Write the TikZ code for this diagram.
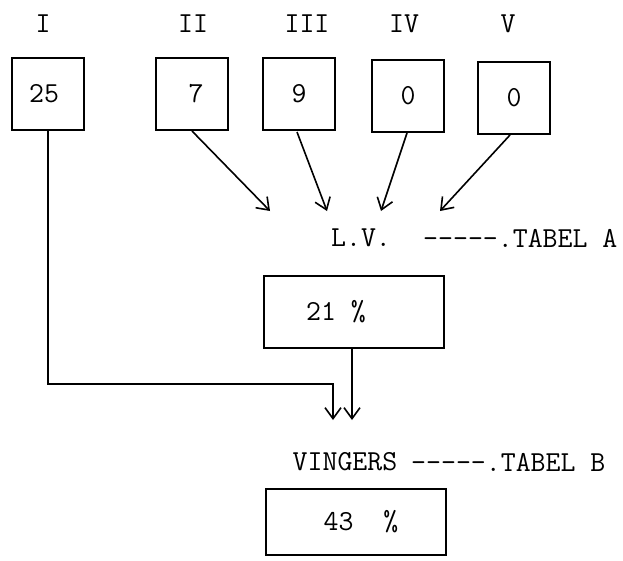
\documentclass[tikz,border=0pt]{standalone}
\usetikzlibrary{arrows.meta}
\begin{document}
\begin{tikzpicture}[x=1pt,y=-1pt,
  txt/.style={font=\ttfamily\fontsize{29}{32}\selectfont, inner sep=0pt},
  sqbox/.style={draw, line width=1.8pt, minimum width=72pt, minimum height=72pt, txt},
  wbox/.style={draw, line width=1.6pt, minimum width=180pt, minimum height=72pt, txt},
  conn/.style={line width=1.6pt, -{Straight Barb[length=11pt,width=16pt,line width=1.6pt]}}
]
\useasboundingbox (0,0) rectangle (623,560);
% labels
\node[txt] (l1) at (43,24) {I};
\node[txt] (l2) at (193,24) {II};
\node[txt] (l3) at (307,24) {III};
\node[txt] (l4) at (404,24) {IV};
\node[txt] (l5) at (508,24) {V};
% boxes
\node[sqbox] (b1) at (48,94) {25\hspace*{8pt}};
\node[sqbox] (b2) at (192,94) {\hspace*{8pt}7};
\node[sqbox] (b3) at (299,94) {9};
\node[sqbox] (b4) at (408,96) {0};
\node[sqbox] (b5) at (514,98) {0};
% targets
\coordinate (t2) at (270,211);
\coordinate (t3) at (327,211);
\coordinate (t4) at (381,211);
\coordinate (t5) at (440,211);
\draw[conn] (192,131) -- (t2);
\draw[conn] (297,132) -- (t3);
\draw[conn] (407,133) -- (t4);
\draw[conn] (510,135) -- (t5);
% L.V.
\node[txt] (lv) at (361,238) {L.V.};
\node[txt, anchor=west] (tA) at (423,238) {-----.TABEL A};
% 21 %
\node[wbox] (r21) at (354,312) {21 \%\hspace*{36pt}};
\coordinate (a1) at (352,420);
\coordinate (a2) at (333,420);
\draw[conn] (r21.south -| a1) -- (a1);
\draw[conn] (b1.south) |- (333,384) -- (a2);
% VINGERS
\node[txt] (ving) at (345,462) {VINGERS};
\node[txt, anchor=west] (tB) at (411,462) {-----.TABEL B};
% 43 %
\node[wbox, minimum height=66pt] (r43) at (356,522) {\hspace*{10pt}43\ \ \%};
\end{tikzpicture}
\end{document}
